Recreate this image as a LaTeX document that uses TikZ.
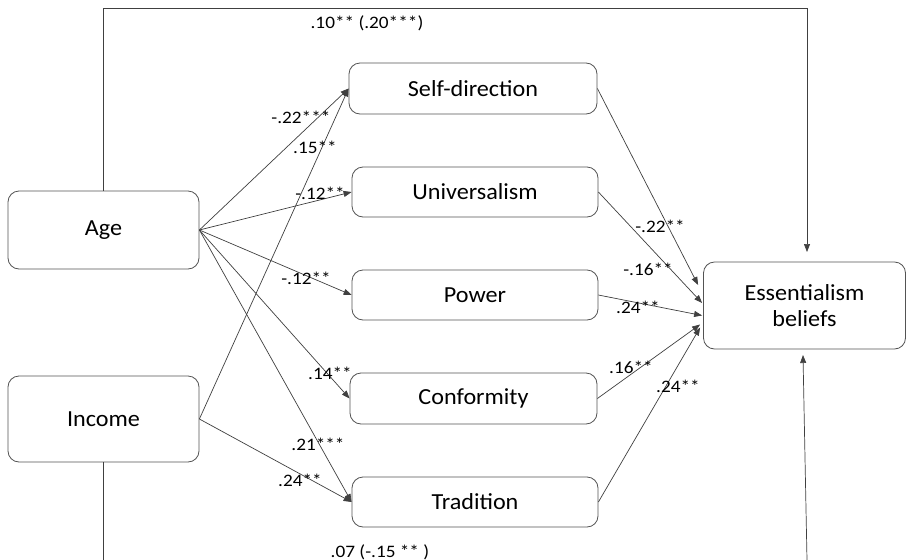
\documentclass[tikz,border=0pt]{standalone}
\usepackage{fontspec}
\setmainfont{Carlito}
\newfontfamily\nodefont[FakeStretch=1.05]{Carlito}
\newfontfamily\labfont[FakeStretch=1.1]{Carlito}
\usetikzlibrary{arrows.meta,calc}
\definecolor{ln}{HTML}{404040}
\tikzset{
  box/.style={draw=ln!90, line width=0.8pt, rounded corners=11pt, align=center, inner sep=0pt, font=\nodefont\fontsize{23}{26}\selectfont},
  lab/.style={inner sep=0pt, font=\labfont\fontsize{17.5}{19}\selectfont},
  conn/.style={draw=ln, line width=0.7pt},
  arr/.style={conn, -{Triangle[length=8pt,width=6pt]}}
}
\begin{document}
\begin{tikzpicture}[x=1pt,y=-1pt]
\useasboundingbox (0,0) rectangle (906,560);
\fill[white] (0,0) rectangle (906,560);
% nodes
\node[box, minimum width=191pt, minimum height=78pt] (age) at (103.5,230) {Age};
\node[box, minimum width=191pt, minimum height=86pt] (inc) at (103.5,419) {Income};
\node[box, minimum width=248pt, minimum height=51pt] (sd) at (473,88.5) {Self-direction};
\node[box, minimum width=246pt, minimum height=50pt] (un) at (475,192) {Universalism};
\node[box, minimum width=246pt, minimum height=50pt] (pw) at (475,295) {Power};
\node[box, minimum width=247pt, minimum height=51pt] (cf) at (473.5,398.5) {Conformity};
\node[box, minimum width=246pt, minimum height=50pt] (tr) at (475,502) {Tradition};
\node[box, minimum width=202pt, minimum height=87pt] (ess) at (804.5,305.5) {Essentialism\\beliefs};
% coordinates
\coordinate (tc) at (807,8);
\coordinate (te) at (807,252);
\coordinate (ib) at (103.5,560);
\coordinate (bs) at (807,560);
\coordinate (be) at (803,355);
% direct paths
\draw[conn] (age.north) |- (tc);
\draw[arr] (tc) -- (te);
\draw[conn] (inc.south) -- (ib);
\draw[arr] (bs) -- (be);
% age paths
\draw[arr] (age.east) -- (sd.west);
\draw[arr] (age.east) -- (un.west);
\draw[arr] (age.east) -- (pw.west);
\draw[arr] (age.east) -- (cf.west);
\draw[arr] (age.east) -- (tr.west);
% income paths
\draw[arr] (inc.east) -- (sd.west);
\draw[arr] (inc.east) -- (tr.west);
% mediators to ess
\draw[arr] (sd.east) -- ($(ess.west)+(-5,-20.5)$);
\draw[arr] (un.east) -- ($(ess.west)+(-1,-2.5)$);
\draw[arr] (pw.east) -- ($(ess.west)+(-1,10)$);
\draw[arr] (cf.east) -- ($(ess.west)+(-3,19)$);
\draw[arr] (tr.east) -- ($(ess.west)+(-3,22)$);
% labels
\node[lab] (l1) at (367,23) {.10** (.20***)};
\node[lab] (l2) at (301,117) {-.22***};
\node[lab] (l3) at (315,147) {.15**};
\node[lab] (l4) at (320,193) {-.12**};
\node[lab] (l5) at (306,278) {-.12**};
\node[lab] (l6) at (330,373) {.14**};
\node[lab] (l7) at (318,444) {.21***};
\node[lab] (l8) at (300,480) {.24**};
\node[lab] (l9) at (380,552) {.07 (-.15 ** )};
\node[lab] (m1) at (660,226) {-.22**};
\node[lab] (m2) at (648,269) {-.16**};
\node[lab] (m3) at (638,307) {.24**};
\node[lab] (m4) at (631,367) {.16**};
\node[lab] (m5) at (678,386) {.24**};
\end{tikzpicture}
\end{document}
